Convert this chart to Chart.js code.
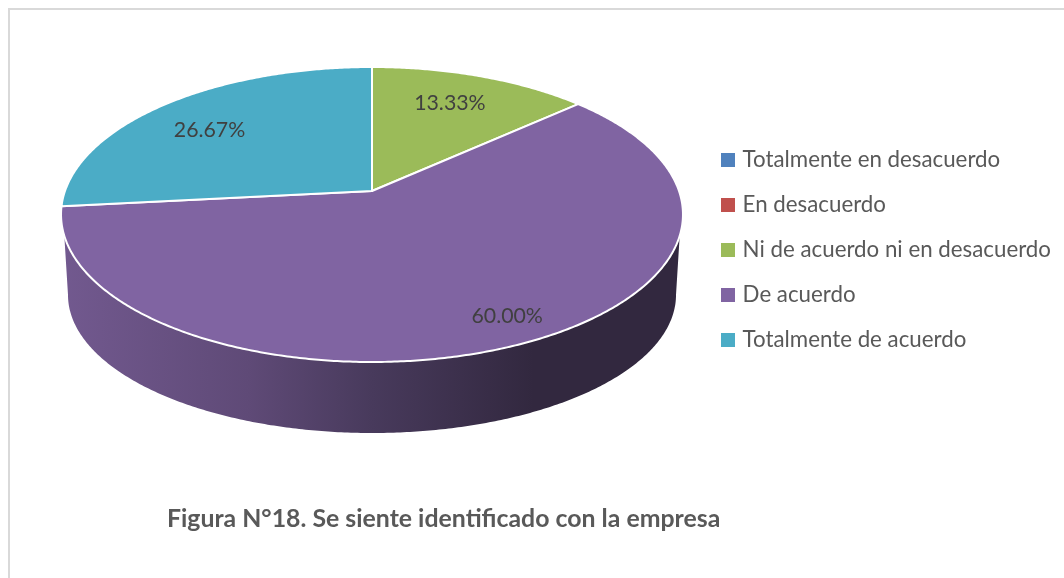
<!DOCTYPE html>
<html>
<head>
<meta charset="utf-8">
<style>
html,body{margin:0;padding:0;background:#fff;overflow:hidden}
#frame{position:absolute;left:8px;top:8px;width:1100px;height:640px;border:2px solid #d9d9d9;box-sizing:border-box}
canvas{position:absolute;left:0;top:0}
</style>
<script src="https://cdn.jsdelivr.net/npm/chart.js@4"></script>
</head>
<body>
<div id="frame"></div>
<canvas id="c" width="1064" height="578"></canvas>
<script>
const categories = ["Totalmente en desacuerdo","En desacuerdo","Ni de acuerdo ni en desacuerdo","De acuerdo","Totalmente de acuerdo"];
const percentages = [0, 0, 13.33, 60.00, 26.67];
const sliceColors = ["#4f81bd","#c0504d","#9bbb59","#8064a2","#4bacc6"];
const figureTitle = "Figura N°18. Se siente identificado con la empresa";

// Perspective projection of the pie's unit disc on the page
const TILT = {cx:372, cy:191, ax:307, by:143.76, k:-0.1593};
const BASE = {cx:372, cy:295, a:304, b:138};
const WALL_FROM = 17.3*Math.PI/180, WALL_TO = 162.7*Math.PI/180;
const LABEL_NUDGE = {2:[-6.5,1], 3:[30,15], 4:[-4,6]};

function project(angle, r){
  const u = r*Math.cos(angle), v = r*Math.sin(angle), d = 1 + TILT.k*v;
  return [TILT.cx + TILT.ax*u/d, TILT.cy + TILT.by*v/d];
}

class Arc3D extends Chart.ArcElement {
  static id = 'arc3d';
  draw(ctx){
    const {startAngle:s, endAngle:e} = this;
    if (e - s < 1e-4) return;
    const o = this.options, step = Math.PI/360;
    // side wall
    const lo = Math.max(s, WALL_FROM), hi = Math.min(e, WALL_TO);
    if (hi > lo){
      const g = ctx.createLinearGradient(62,0,682,0);
      g.addColorStop(0,'#72598f');
      g.addColorStop(0.3,'#5f4a77');
      g.addColorStop(0.5,'#483a5c');
      g.addColorStop(0.76,'#32283f');
      g.addColorStop(1,'#32283f');
      ctx.beginPath();
      for (let a=lo; a<hi; a+=step){ const p=project(a,1); ctx.lineTo(p[0],p[1]); }
      const pe=project(hi,1); ctx.lineTo(pe[0],pe[1]);
      for (let a=hi; a>lo; a-=step){
        const t=(a-WALL_FROM)/(WALL_TO-WALL_FROM)*Math.PI;
        ctx.lineTo(BASE.cx+BASE.a*Math.cos(t), BASE.cy+BASE.b*Math.sin(t));
      }
      const t0=(lo-WALL_FROM)/(WALL_TO-WALL_FROM)*Math.PI;
      ctx.lineTo(BASE.cx+BASE.a*Math.cos(t0), BASE.cy+BASE.b*Math.sin(t0));
      ctx.closePath();
      ctx.fillStyle=g; ctx.fill();
    }
    // top face
    ctx.beginPath();
    ctx.moveTo(TILT.cx,TILT.cy);
    for (let a=s; a<e; a+=step){ const p=project(a,1); ctx.lineTo(p[0],p[1]); }
    const pl=project(e,1); ctx.lineTo(pl[0],pl[1]);
    ctx.closePath();
    ctx.fillStyle=o.backgroundColor; ctx.fill();
    ctx.lineJoin='round';
    ctx.strokeStyle=o.borderColor; ctx.lineWidth=o.borderWidth; ctx.stroke();
  }
}
class Pie3D extends Chart.PieController {
  static id = 'pie3d';
  static defaults = {dataElementType:'arc3d'};
}
Chart.register(Arc3D, Pie3D);

const sliceLabels = {
  id:'sliceLabels',
  afterDatasetsDraw(chart){
    const ctx=chart.ctx, arcs=chart.getDatasetMeta(0).data;
    ctx.save();
    ctx.font='21.3px Lato'; ctx.fillStyle='#404040';
    ctx.textAlign='center'; ctx.textBaseline='middle';
    arcs.forEach((arc,i)=>{
      if(!percentages[i]) return;
      const p=project((arc.startAngle+arc.endAngle)/2,0.75), n=LABEL_NUDGE[i];
      ctx.fillText(percentages[i].toFixed(2)+'%',p[0]+n[0],p[1]+n[1]);
    });
    ctx.restore();
  }
};

function swatch(color){
  const b=document.createElement('canvas'); b.width=14; b.height=14;
  const x=b.getContext('2d'); x.fillStyle=color; x.fillRect(0,0,14,14);
  return b;
}

new Chart(document.getElementById('c'),{
  type:'pie3d',
  data:{labels:categories,datasets:[{data:percentages,backgroundColor:sliceColors,borderColor:'#ffffff',borderWidth:2}]},
  options:{
    responsive:false,animation:false,rotation:0,
    layout:{padding:{left:167,right:3,top:0,bottom:0}},
    plugins:{
      tooltip:{enabled:false},
      title:{display:true,text:figureTitle,position:'bottom',align:'start',color:'#595959',
        font:{family:'Lato',size:24.85,weight:'bold'},padding:{top:5,bottom:44}},
      legend:{display:true,position:'right',align:'center',fullSize:false,
        labels:{
          usePointStyle:true,pointStyleWidth:6,boxHeight:14,padding:22.7,color:'#595959',
          font:{family:'Lato',size:22.3},
          generateLabels(){
            return categories.map((t,i)=>({text:t,fillStyle:sliceColors[i],strokeStyle:sliceColors[i],lineWidth:0,
              pointStyle:swatch(sliceColors[i]),fontColor:'#595959',hidden:false,index:i}));
          }
        }}
    }
  },
  plugins:[sliceLabels]
});
</script>
</body>
</html>
